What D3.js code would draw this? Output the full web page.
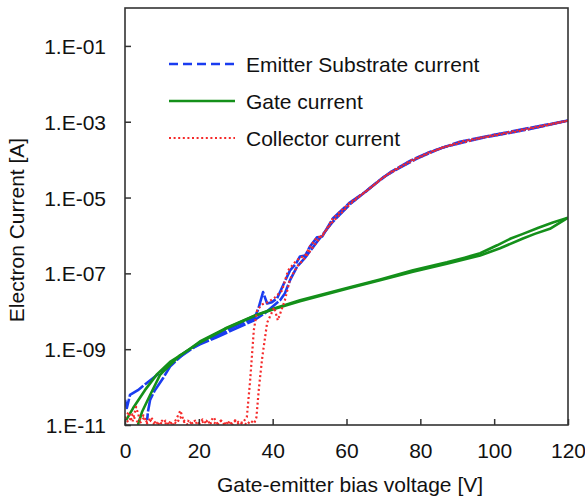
<!DOCTYPE html>
<html lang="en">
<head>
<meta charset="UTF-8">
<title>Electron current vs gate-emitter bias</title>
<script src="https://d3js.org/d3.v7.min.js"></script>
<style>
    body { margin: 0; background: #fff; }
    svg { display: block; font-family: "Liberation Sans", Arial, sans-serif; }
    .tick-label { font-size: 21px; fill: #111; }
    .axis-title { font-size: 21px; fill: #111; }
    .legend-label { font-size: 21px; fill: #111; }
</style>
</head>
<body>
<div id="chart"></div>
<script>
// Gate-emitter bias voltage [V] vs electron current [A], up sweep and down sweep
const emitterUp = [
    [0, 4.6e-11], [0.5, 2.8e-11], [1.35, 6.2e-11], [3.5, 8.3e-11], [6, 1.3e-10],
    [10.3, 2.8e-10], [14.9, 6.2e-10], [20.3, 1.45e-9], [25, 2.3e-9], [30, 4.1e-9],
    [35, 6.6e-9], [36, 1.07e-8], [37.4, 3.2e-8], [38.5, 1.6e-8], [39.8, 1.74e-8],
    [41.2, 2.2e-8], [42.8, 4.8e-8], [44.7, 1.2e-7], [46.3, 1.8e-7], [47.4, 2.8e-7],
    [48.8, 2.95e-7], [50.1, 5.1e-7], [52, 8.9e-7], [53.4, 9.3e-7], [56.3, 2.8e-6],
    [60.9, 7.4e-6], [65.5, 1.5e-5], [69.9, 3.4e-5], [74.5, 6.2e-5], [79.1, 1.07e-4],
    [86.1, 2.1e-4], [97, 3.8e-4], [106.2, 5.5e-4], [113.8, 7.8e-4], [120, 1.07e-3]
];
const emitterDown = [
    [120, 1.07e-3], [109.7, 6.9e-4], [98.9, 4.3e-4], [90.7, 2.95e-4], [82.6, 1.6e-4],
    [77.2, 9.3e-5], [71.8, 4.6e-5], [66.4, 1.8e-5], [60.9, 6.6e-6], [56.3, 2.3e-6],
    [52.3, 7.4e-7], [48.8, 2.6e-7], [46.6, 1.5e-7], [44.7, 6.6e-8], [43.3, 2.95e-8],
    [42, 1.95e-8], [40.4, 1.45e-8], [37.9, 8.9e-9], [35, 5.8e-9], [30, 3.5e-9],
    [25, 2.1e-9], [20.3, 1.35e-9], [16.3, 8.3e-10], [12.2, 3.5e-10], [10.3, 1.7e-10],
    [8.1, 8.3e-11], [6.8, 4.6e-11], [6.2, 2.2e-11], [6, 1.35e-11]
];
const gateUp = [
    [0.3, 1.35e-11], [2.2, 2.8e-11], [5.4, 8.3e-11], [8.7, 2.2e-10], [12.2, 4.6e-10],
    [16.3, 8.3e-10], [20.3, 1.6e-9], [27.1, 3.5e-9], [35.2, 7.8e-9], [40.6, 1.2e-8],
    [47.4, 1.95e-8], [60.9, 4.3e-8], [69.1, 6.9e-8], [78, 1.2e-7], [87.2, 1.95e-7],
    [92, 2.6e-7], [96.2, 3.4e-7], [100.8, 5.5e-7], [104.5, 8.3e-7], [107.8, 1.1e-6],
    [112, 1.6e-6], [115.9, 2.2e-6], [120, 2.95e-6]
];
const gateDown = [
    [120, 2.95e-6], [115.1, 1.5e-6], [111, 1.1e-6], [107.8, 8.3e-7], [101.6, 4.6e-7],
    [96.2, 2.95e-7], [87.2, 1.8e-7], [78, 1.1e-7], [69.1, 6.6e-8], [60.9, 4.1e-8],
    [47.4, 1.85e-8], [40.6, 1.17e-8], [35.2, 7.6e-9], [27.1, 3.4e-9], [20.3, 1.5e-9],
    [14.9, 6.9e-10], [9.5, 2.1e-10], [6.8, 6.2e-11], [4.6, 2.2e-11], [3.5, 1e-11]
];
const collectorUp = [
    [0, 1.5e-11], [1, 2.2e-11], [2, 1.2e-11], [3, 3e-11], [4, 1.4e-11], [5, 1.8e-11],
    [6, 1.1e-11], [7, 1.6e-11], [8, 1.2e-11], [9, 1.05e-11], [10, 1.3e-11], [11, 1.1e-11],
    [12, 1.2e-11], [13, 1.0e-11], [14, 1.5e-11], [15, 2.4e-11], [16, 1.2e-11], [17, 1.3e-11],
    [18, 1.1e-11], [19, 1.2e-11], [20, 1.0e-11], [21, 1.4e-11], [22, 1.1e-11], [23, 1.2e-11],
    [24, 1.6e-11], [25, 1.1e-11], [26, 1.3e-11], [27, 1.0e-11], [28, 1.2e-11], [29, 1.1e-11],
    [30, 1.3e-11], [31, 1.0e-11], [32, 1.2e-11], [33, 1.6e-11], [33.9, 1.5e-10], [34.9, 3.2e-9],
    [35.8, 1.07e-8], [37.1, 1.5e-8], [38.7, 1.74e-8], [40.6, 2.3e-8], [42.5, 3.5e-8],
    [44.2, 1.2e-7], [46, 1.95e-7], [47.4, 2.6e-7], [48.8, 2.95e-7], [50.1, 5.1e-7],
    [52, 8.9e-7], [53.4, 9.3e-7], [56.3, 2.8e-6], [60.9, 7.4e-6], [65.5, 1.5e-5],
    [69.9, 3.4e-5], [74.5, 6.2e-5], [79.1, 1.07e-4], [86.1, 2.1e-4], [97, 3.8e-4],
    [106.2, 5.5e-4], [113.8, 7.8e-4], [120, 1.07e-3]
];
const collectorDown = [
    [120, 1.07e-3], [109.7, 6.9e-4], [98.9, 4.3e-4], [90.7, 2.95e-4], [82.6, 1.6e-4],
    [77.2, 9.3e-5], [71.8, 4.6e-5], [66.4, 1.8e-5], [60.9, 6.6e-6], [56.3, 2.3e-6],
    [52.3, 7.4e-7], [48.8, 2.6e-7], [46.6, 1.5e-7], [44.7, 7.0e-8], [43.3, 1.95e-8],
    [41.4, 5.8e-9], [40.4, 1.26e-8], [38.5, 5e-9], [37.2, 6.3e-10], [36.3, 1e-10],
    [35.6, 1.6e-11], [35, 1.1e-11], [34, 1.3e-11], [33, 1.0e-11], [32, 1.2e-11],
    [31, 1.1e-11], [30, 1.4e-11], [29, 1.0e-11], [28, 1.2e-11], [27, 1.1e-11],
    [26, 1.3e-11], [25, 1.0e-11], [24, 1.2e-11], [23, 1.1e-11], [22, 1.3e-11],
    [21, 1.2e-11], [20, 1.1e-11], [19, 1.3e-11], [18, 1.2e-11], [17, 1.0e-11],
    [16, 1.3e-11], [15, 1.6e-11], [14, 1.1e-11], [13, 1.2e-11], [12, 1.0e-11],
    [11, 1.3e-11], [10, 1.1e-11], [9, 1.2e-11], [8, 1.0e-11], [7, 1.3e-11],
    [6, 1.2e-11], [5, 1.5e-11], [4, 1.1e-11], [3, 1.3e-11], [2, 1.9e-11],
    [1, 1.2e-11], [0, 1.4e-11]
];

const xTicks = [0, 20, 40, 60, 80, 100, 120];
const yTicks = [1e-11, 1e-9, 1e-7, 1e-5, 1e-3, 1e-1];
const yTickLabels = ["1.E-11", "1.E-09", "1.E-07", "1.E-05", "1.E-03", "1.E-01"];
const legendLabels = ["Emitter Substrate current", "Gate current", "Collector current"];

const width = 585, height = 499;
const margin = { top: 8, right: 17, bottom: 74, left: 125 };
const plotW = width - margin.left - margin.right;
const plotH = height - margin.top - margin.bottom;

const svg = d3.select("#chart").append("svg")
    .attr("width", width)
    .attr("height", height);

const x = d3.scaleLinear().domain([0, 120]).range([0, plotW]);
const y = d3.scaleLog().domain([1e-11, 1]).range([plotH, 0]);

const g = svg.append("g").attr("transform", `translate(${margin.left},${margin.top})`);

g.append("clipPath").attr("id", "plot-clip")
    .append("rect").attr("width", plotW).attr("height", plotH);

// series styles
const styles = {
    emitter: { color: "#1a3cf0", width: 2.6, dash: "18,2" },
    gate: { color: "#14901a", width: 2.6, dash: null },
    collector: { color: "#f52a2a", width: 2.2, dash: "2,2.6" }
};

const line = d3.line()
    .x(d => x(d[0]))
    .y(d => y(Math.max(d[1], 5e-12)));

const lines = g.append("g").attr("clip-path", "url(#plot-clip)");
[
    [emitterUp, styles.emitter], [emitterDown, styles.emitter],
    [gateUp, styles.gate], [gateDown, styles.gate],
    [collectorUp, styles.collector], [collectorDown, styles.collector]
].forEach(([data, s]) => {
    lines.append("path")
        .datum(data)
        .attr("d", line)
        .attr("fill", "none")
        .attr("stroke", s.color)
        .attr("stroke-width", s.width)
        .attr("stroke-linejoin", "round")
        .attr("stroke-dasharray", s.dash);
});

// axes: inward ticks on left and bottom, box frame
const yAxis = d3.axisLeft(y).tickValues(yTicks)
    .tickSizeInner(-6).tickSizeOuter(0)
    .tickFormat((d, i) => yTickLabels[i]);
const xAxis = d3.axisBottom(x).tickValues(xTicks)
    .tickSizeInner(-6).tickSizeOuter(0);

const ya = g.append("g").call(yAxis);
ya.select(".domain").remove();
ya.selectAll(".tick line").attr("stroke", "#333").attr("stroke-width", 1.5);
ya.selectAll(".tick text").attr("class", "tick-label").attr("x", -19).attr("dy", "0.36em");

const xa = g.append("g").attr("transform", `translate(0,${plotH})`).call(xAxis);
xa.select(".domain").remove();
xa.selectAll(".tick line").attr("stroke", "#333").attr("stroke-width", 1.5);
xa.selectAll(".tick text").attr("class", "tick-label").attr("y", 18).attr("dy", "0.71em");
ya.attr("font-size", null).attr("font-family", null);
xa.attr("font-size", null).attr("font-family", null);

g.append("rect")
    .attr("width", plotW).attr("height", plotH)
    .attr("fill", "none").attr("stroke", "#333").attr("stroke-width", 1.6);

// titles
svg.append("text").attr("class", "axis-title")
    .attr("x", 350).attr("y", 492).attr("text-anchor", "middle")
    .text("Gate-emitter bias voltage [V]");
svg.append("text").attr("class", "axis-title")
    .attr("transform", "translate(24,230) rotate(-90)")
    .attr("text-anchor", "middle")
    .text("Electron Current [A]");

// legend
const legendStyles = [styles.emitter, styles.gate, styles.collector];
const legendDash = ["9,5", null, "2,2.6"];
const legend = svg.append("g");
legendLabels.forEach((label, i) => {
    const ly = 64 + i * 37;
    legend.append("line")
        .attr("x1", 169).attr("x2", 235).attr("y1", ly).attr("y2", ly)
        .attr("stroke", legendStyles[i].color)
        .attr("stroke-width", legendStyles[i].width)
        .attr("stroke-dasharray", legendDash[i]);
    legend.append("text").attr("class", "legend-label")
        .attr("x", 246).attr("y", ly + 8)
        .text(label);
});
</script>
</body>
</html>
